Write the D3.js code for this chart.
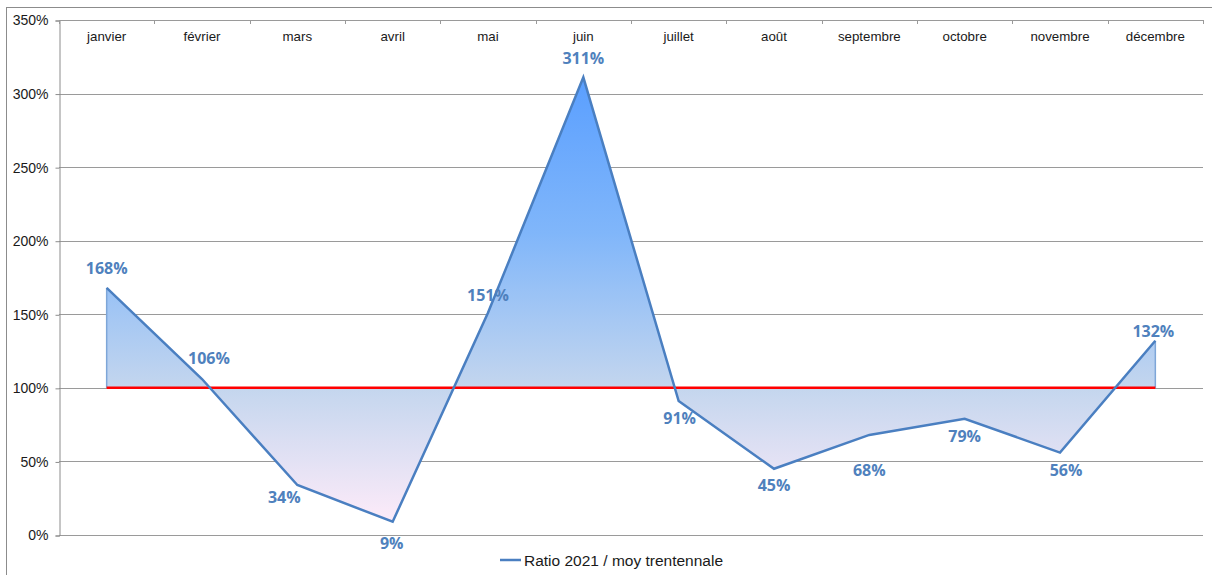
<!DOCTYPE html>
<html>
  <head>
    <meta charset="utf-8">
    <title>Ratio 2021</title>
    <script src="https://d3js.org/d3.v7.min.js"></script>
    <style>
      body { margin: 0; background: #fff; }
      text { font-family: "Liberation Sans", Arial, sans-serif; }
    </style>
  </head>
  <body>
    <script>
      var months = ["janvier", "février", "mars", "avril", "mai", "juin",
                    "juillet", "août", "septembre", "octobre", "novembre", "décembre"];
      var ratios = [168, 106, 34, 9, 151, 311, 91, 45, 68, 79, 56, 132];
      var yTicks = [0, 50, 100, 150, 200, 250, 300, 350];
      var seriesName = "Ratio 2021 / moy trentennale";

      // label nudges (dx, dy of baseline from the point), as placed in the original
      var labelDx = [0, 7, -13, -1, 0, 0, 1, 0, 0, 0, 6, -2];
      var labelDy = [-14, -15, 18, 27, -12, -13, 23, 22, 41, 23, 23, -4];

      var width = 1212, height = 575;
      var plotLeft = 59, plotRight = 1203, plotTop = 20, plotBottom = 535;

      var svg = d3.select("body").append("svg").attr("width", width).attr("height", height);

      // outer frame
      svg.append("rect").attr("x", 6.5).attr("y", 7.5).attr("width", 1215).attr("height", 580)
        .attr("fill", "none").attr("stroke", "#8c8c8c").attr("stroke-width", 1);

      var band = d3.scaleBand().domain(months).range([plotLeft, plotRight]);
      var x = function(m) { return band(m) + band.bandwidth() / 2; };
      var y = d3.scaleLinear().domain([0, 350]).range([plotBottom, plotTop]);

      // gridlines
      svg.append("g").selectAll("line").data(yTicks).enter().append("line")
        .attr("x1", plotLeft).attr("x2", plotRight)
        .attr("y1", function(d) { return Math.round(y(d)) + 0.5; })
        .attr("y2", function(d) { return Math.round(y(d)) + 0.5; })
        .attr("stroke", "#9a9a9a").attr("stroke-width", 1);

      // y axis
      var axisY = d3.axisLeft(y).tickValues(yTicks).tickSize(4).tickPadding(7)
        .tickFormat(function(d) { return d + "%"; });
      var gy = svg.append("g").attr("transform", "translate(" + (plotLeft + 0.5) + ",0.5)").call(axisY);
      gy.select(".domain").attr("stroke", "#8c8c8c");
      gy.selectAll(".tick line").attr("stroke", "#8c8c8c");
      gy.selectAll("text").attr("font-size", 14).attr("fill", "#1a1a1a")
        .style("font-family", "'Liberation Sans', Arial, sans-serif");

      // top category axis
      var gx = svg.append("g");
      gx.append("line").attr("x1", plotLeft).attr("x2", plotRight).attr("y1", plotTop + 0.5).attr("y2", plotTop + 0.5)
        .attr("stroke", "#9a9a9a");
      gx.selectAll("line.t").data(months.concat(["end"])).enter().append("line").attr("class", "t")
        .attr("x1", function(d, i) { return Math.round(plotLeft + i * band.step()) + 0.5; })
        .attr("x2", function(d, i) { return Math.round(plotLeft + i * band.step()) + 0.5; })
        .attr("y1", plotTop).attr("y2", plotTop + 4).attr("stroke", "#9a9a9a");
      gx.selectAll("text").data(months).enter().append("text")
        .attr("x", function(d) { return x(d); }).attr("y", 41)
        .attr("text-anchor", "middle").attr("font-size", 13.3).attr("fill", "#1a1a1a")
        .text(function(d) { return d; });

      // gradient
      var defs = svg.append("defs");
      var grad = defs.append("linearGradient").attr("id", "fillGrad")
        .attr("gradientUnits", "userSpaceOnUse")
        .attr("x1", 0).attr("x2", 0)
        .attr("y1", y(d3.max(ratios))).attr("y2", y(d3.min(ratios)));
      grad.append("stop").attr("offset", 0).attr("stop-color", "#5a9fff");
      grad.append("stop").attr("offset", 0.35).attr("stop-color", "#80b6fa");
      grad.append("stop").attr("offset", 0.7).attr("stop-color", "#c4d6ee");
      grad.append("stop").attr("offset", 1).attr("stop-color", "#fdebf9");

      var data = months.map(function(m, i) { return { m: m, v: ratios[i], i: i }; });

      var area = d3.area()
        .x(function(d) { return x(d.m); })
        .y0(y(100))
        .y1(function(d) { return y(d.v); });
      svg.append("path").datum(data).attr("d", area)
        .attr("fill", "url(#fillGrad)").attr("stroke", "none");

      // vertical area edges
      svg.append("g").selectAll("line").data([data[0], data[data.length - 1]]).enter().append("line")
        .attr("x1", function(d) { return x(d.m); }).attr("x2", function(d) { return x(d.m); })
        .attr("y1", y(100)).attr("y2", function(d) { return y(d.v); })
        .attr("stroke", "#7ea6d8").attr("stroke-width", 1.5);

      // red 100% line
      svg.append("line")
        .attr("x1", x(months[0])).attr("x2", x(months[months.length - 1]))
        .attr("y1", y(100)).attr("y2", y(100))
        .attr("stroke", "#ff0000").attr("stroke-width", 2.5);

      // series line
      var line = d3.line().x(function(d) { return x(d.m); }).y(function(d) { return y(d.v); });
      svg.append("path").datum(data).attr("d", line)
        .attr("fill", "none").attr("stroke", "#4a7fc1").attr("stroke-width", 2.5)
        .attr("stroke-linejoin", "miter");

      // data labels
      svg.append("g").selectAll("text").data(data).enter().append("text")
        .attr("x", function(d) { return x(d.m) + labelDx[d.i]; })
        .attr("y", function(d) { return y(d.v) + labelDy[d.i]; })
        .attr("text-anchor", "middle").attr("font-size", 16).attr("font-weight", "bold")
        .attr("fill", "#4f81bd")
        .style("font-family", "'Open Sans', 'Noto Sans', sans-serif")
        .text(function(d) { return d.v + "%"; });

      // legend
      var lg = svg.append("g").attr("transform", "translate(500,560)");
      lg.append("line").attr("x1", 0).attr("x2", 21).attr("y1", 0).attr("y2", 0)
        .attr("stroke", "#4a7fc1").attr("stroke-width", 2.5);
      lg.append("text").attr("x", 24).attr("y", 5.5).attr("font-size", 15.5).attr("fill", "#1a1a1a")
        .text(seriesName);
    </script>
  </body>
</html>
